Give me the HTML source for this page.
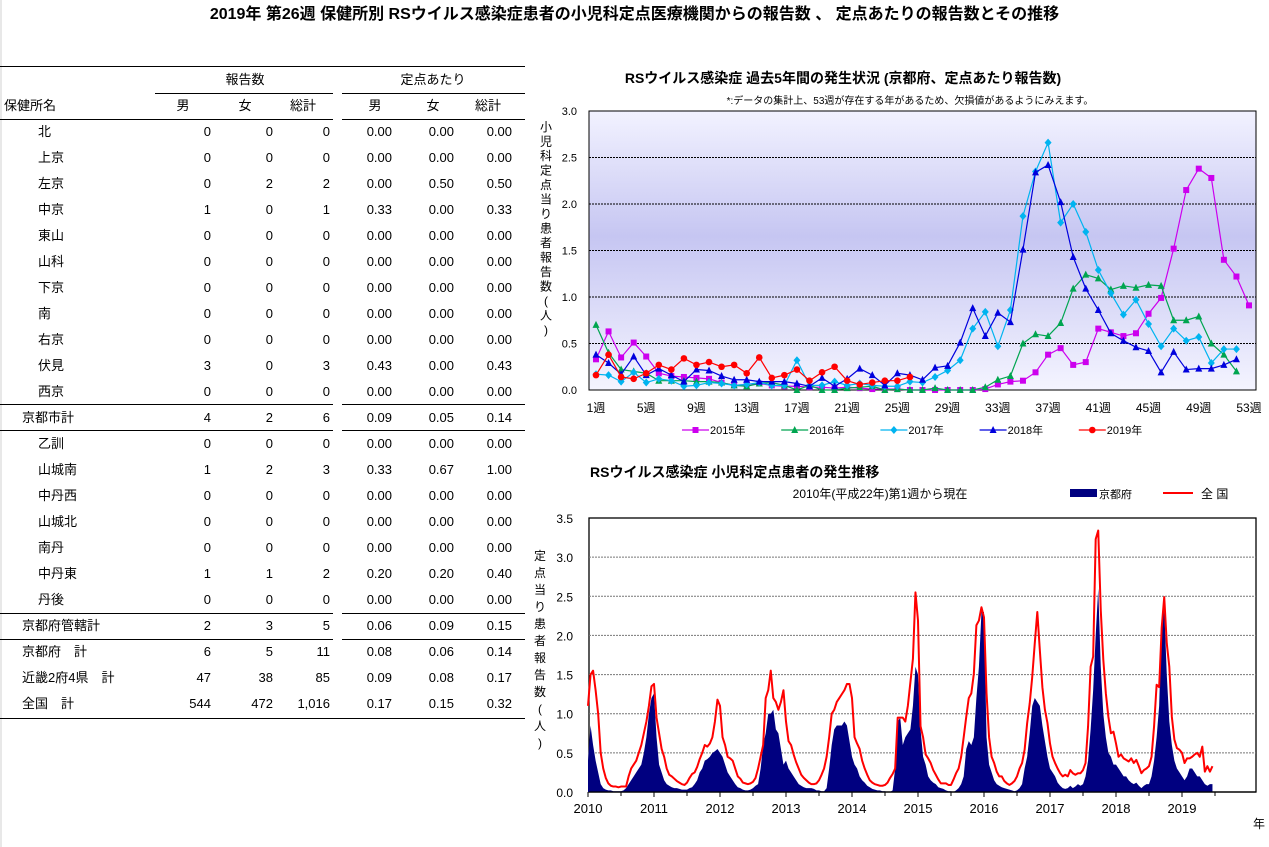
<!DOCTYPE html>
<html><head><meta charset="utf-8">
<style>
body{margin:0;width:1269px;height:847px;background:#fff;font-family:"Liberation Sans","Noto Sans CJK JP",sans-serif;color:#000;position:relative;overflow:hidden}
.a{position:absolute;white-space:nowrap;font-size:13px;line-height:14px}
.r{text-align:right}
.c{text-align:center}
.ln{position:absolute;height:1px;background:#000}
svg text{font-family:"Liberation Sans","Noto Sans CJK JP",sans-serif}
</style></head><body>
<div class="a c" style="left:0;width:1269px;top:6px;font-size:16px;line-height:18px;font-weight:bold">2019年 第26週 保健所別 RSウイルス感染症患者の小児科定点医療機関からの報告数 、 定点あたりの報告数とその推移</div>
<div style="position:absolute;left:0;top:0;width:2px;height:847px;background:#e8e8e8"></div>
<div id="tbl"></div>
<svg id="top" width="1269" height="847" style="position:absolute;left:0;top:0"></svg>
<script>
// ---- table ----
const rows=[
["北",0,0,0,"0.00","0.00","0.00",1],["上京",0,0,0,"0.00","0.00","0.00",1],["左京",0,2,2,"0.00","0.50","0.50",1],["中京",1,0,1,"0.33","0.00","0.33",1],
["東山",0,0,0,"0.00","0.00","0.00",1],["山科",0,0,0,"0.00","0.00","0.00",1],["下京",0,0,0,"0.00","0.00","0.00",1],["南",0,0,0,"0.00","0.00","0.00",1],
["右京",0,0,0,"0.00","0.00","0.00",1],["伏見",3,0,3,"0.43","0.00","0.43",1],["西京",0,0,0,"0.00","0.00","0.00",1],
["京都市計",4,2,6,"0.09","0.05","0.14",0],
["乙訓",0,0,0,"0.00","0.00","0.00",1],["山城南",1,2,3,"0.33","0.67","1.00",1],["中丹西",0,0,0,"0.00","0.00","0.00",1],["山城北",0,0,0,"0.00","0.00","0.00",1],
["南丹",0,0,0,"0.00","0.00","0.00",1],["中丹東",1,1,2,"0.20","0.20","0.40",1],["丹後",0,0,0,"0.00","0.00","0.00",1],
["京都府管轄計",2,3,5,"0.06","0.09","0.15",0],["京都府　計",6,5,11,"0.08","0.06","0.14",0],["近畿2府4県　計",47,38,85,"0.09","0.08","0.17",0],["全国　計",544,472,"1,016","0.17","0.15","0.32",0]];
const T=document.getElementById('tbl');
let h='';
function L(x,y,w,n){h+=`<div class="ln" style="left:${x}px;top:${y}px;width:${w}px"></div>`;}
L(0,66,525,'table-top-rule');L(155,93,178,'count-group-rule');L(342,93,183,'rate-group-rule');
L(0,119,333,'header-rule-left');L(342,119,183,'header-rule-right');
h+=`<div class="a c" style="left:195px;width:100px;top:73px">報告数</div>`;
h+=`<div class="a c" style="left:383px;width:100px;top:73px">定点あたり</div>`;
h+=`<div class="a" style="left:4px;top:99px">保健所名</div>`;
[[183,'男'],[245,'女'],[303,'総計'],[375,'男'],[433,'女'],[488,'総計']].forEach(p=>{h+=`<div class="a c" style="left:${p[0]-25}px;width:50px;top:99px">${p[1]}</div>`;});
const rights=[211,273,330,392,454,512];
const ys=[132,158,184,210,236,262,288,314,340,366,392,418,444,470,496,522,548,574,600,626,652,678,704];
rows.forEach((r,i)=>{const y=ys[i]-7;
h+=`<div class="a" style="left:${r[7]?38:22}px;top:${y}px">${r[0]}</div>`;
for(let j=1;j<=6;j++)h+=`<div class="a r" style="left:${rights[j-1]-60}px;width:60px;top:${y}px">${r[j]}</div>`;});
L(0,404,333,'rule');L(342,404,183,'rule');L(0,430,333,'rule');L(342,430,183,'rule');
L(0,613,333,'rule');L(342,613,183,'rule');L(0,639,333,'rule');L(342,639,183,'rule');L(0,718,525,'table-bottom-rule');
T.innerHTML=h;
</script>
<script>
// ---- top chart data ----
const weekTicks=["1週","5週","9週","13週","17週","21週","25週","29週","33週","37週","41週","45週","49週","53週"];
const yTicksTop=["0.0","0.5","1.0","1.5","2.0","2.5","3.0"];
const s2015=[0.33,0.63,0.35,0.51,0.36,0.18,0.15,0.14,0.13,0.12,0.08,0.05,0.06,0.07,0.05,0.04,0.04,0.03,0.03,0.02,0.03,0.02,0.01,0.01,0.01,0,0,0,0,0,0,0.01,0.06,0.09,0.10,0.19,0.38,0.45,0.27,0.30,0.66,0.62,0.58,0.61,0.82,0.99,1.52,2.15,2.38,2.28,1.40,1.22,0.91];
const s2016=[0.70,0.40,0.22,0.20,0.18,0.10,0.10,0.10,0.09,0.09,0.08,0.05,0.04,0.07,0.08,0.05,0,0.05,0,0,0.02,0.03,0.04,0,0.01,0,0,0.02,0,0,0,0.03,0.11,0.15,0.50,0.60,0.58,0.72,1.09,1.24,1.20,1.08,1.12,1.10,1.13,1.12,0.75,0.75,0.79,0.50,0.38,0.20];
const s2017=[0.17,0.16,0.09,0.19,0.08,0.12,0.10,0.04,0.05,0.08,0.07,0.05,0.06,0.08,0.05,0.05,0.32,0.05,0.05,0.09,0.05,0.07,0.05,0.04,0.04,0.09,0.08,0.14,0.21,0.32,0.66,0.84,0.47,0.86,1.87,2.35,2.66,1.80,2.00,1.70,1.29,1.04,0.81,0.97,0.71,0.47,0.66,0.53,0.57,0.29,0.44,0.44];
const s2018=[0.38,0.29,0.17,0.36,0.16,0.23,0.16,0.09,0.22,0.21,0.15,0.11,0.11,0.09,0.09,0.09,0.07,0.04,0.13,0.04,0.12,0.23,0.16,0.05,0.18,0.16,0.11,0.24,0.26,0.51,0.88,0.58,0.83,0.73,1.51,2.34,2.42,2.02,1.43,1.09,0.86,0.61,0.53,0.46,0.42,0.19,0.41,0.22,0.23,0.23,0.27,0.33];
const s2019=[0.16,0.38,0.14,0.12,0.18,0.27,0.22,0.34,0.27,0.30,0.25,0.27,0.18,0.35,0.13,0.16,0.22,0.10,0.19,0.25,0.10,0.06,0.08,0.10,0.10,0.14];
const seriesNames=["2015年","2016年","2017年","2018年","2019年"];

// ---- bottom chart data (biweekly, from 2010 week 1) ----
const yearLabels=["2010","2011","2012","2013","2014","2015","2016","2017","2018","2019"];
const yTicksBot=["0.0","0.5","1.0","1.5","2.0","2.5","3.0","3.5"];
const national=[
1.1,1.5,1.55,1.3,1.0,0.5,0.3,0.18,0.11,0.08,0.07,0.07,0.06,0.07,0.07,0.07,0.2,0.3,0.35,0.4,0.5,0.6,0.75,0.9,1.1,1.35,
1.38,0.95,0.75,0.55,0.45,0.3,0.22,0.2,0.17,0.14,0.12,0.1,0.09,0.12,0.18,0.23,0.25,0.32,0.42,0.5,0.6,0.58,0.62,0.7,0.9,1.18,
1.1,0.7,0.6,0.45,0.43,0.4,0.3,0.2,0.17,0.12,0.11,0.1,0.11,0.13,0.18,0.3,0.45,0.6,1.2,1.3,1.55,1.2,1.15,1.05,1.15,1.3,
0.9,0.65,0.6,0.48,0.38,0.3,0.22,0.18,0.15,0.12,0.1,0.1,0.11,0.15,0.22,0.3,0.45,0.7,1.0,1.05,1.15,1.2,1.25,1.3,1.38,1.38,
1.2,0.7,0.62,0.55,0.4,0.3,0.22,0.15,0.12,0.1,0.09,0.08,0.08,0.09,0.12,0.18,0.23,0.3,0.95,0.95,0.95,0.9,1.1,1.4,1.7,2.55,
2.19,0.84,0.7,0.48,0.43,0.37,0.28,0.22,0.16,0.11,0.11,0.11,0.09,0.09,0.16,0.24,0.3,0.45,0.7,0.96,1.2,1.26,1.51,2.13,2.19,2.36,
2.23,1.26,0.7,0.45,0.37,0.26,0.2,0.2,0.14,0.11,0.09,0.11,0.14,0.2,0.3,0.37,0.54,0.88,1.13,1.47,1.9,2.3,1.81,1.34,1.05,0.88,
0.62,0.45,0.37,0.3,0.24,0.2,0.22,0.2,0.28,0.24,0.22,0.24,0.24,0.28,0.37,0.84,1.6,1.73,3.23,3.34,2.32,1.69,1.26,0.96,0.75,0.77,
0.62,0.45,0.48,0.43,0.41,0.39,0.43,0.37,0.41,0.33,0.24,0.28,0.3,0.33,0.45,0.84,1.37,1.34,2.1,2.49,1.9,1.6,0.96,0.67,0.56,0.54,
0.5,0.37,0.43,0.43,0.45,0.48,0.5,0.45,0.58,0.26,0.33,0.26,0.33];
const kyoto=[
0.4,0.85,0.6,0.4,0.25,0.1,0.05,0.03,0.02,0.02,0.01,0.01,0.01,0.01,0.02,0.05,0.1,0.15,0.2,0.25,0.3,0.35,0.5,0.7,1.0,1.2,
1.26,0.7,0.35,0.25,0.15,0.1,0.08,0.06,0.05,0.05,0.04,0.03,0.03,0.03,0.05,0.06,0.1,0.15,0.25,0.3,0.4,0.42,0.45,0.5,0.52,0.55,
0.5,0.45,0.35,0.25,0.2,0.15,0.1,0.06,0.05,0.03,0.02,0.02,0.03,0.05,0.08,0.1,0.3,0.6,0.75,1.0,1.0,1.05,0.8,0.75,0.55,0.35,
0.4,0.3,0.25,0.2,0.15,0.1,0.08,0.06,0.05,0.05,0.05,0.04,0.02,0.02,0.01,0.01,0.05,0.3,0.6,0.8,0.85,0.85,0.85,0.9,0.85,0.65,
0.45,0.35,0.3,0.2,0.15,0.12,0.08,0.06,0.04,0.03,0.02,0.02,0.01,0.01,0,0,0.02,0.3,0.9,0.95,0.6,0.7,0.75,0.8,1.1,1.6,
1.5,0.8,0.45,0.35,0.2,0.15,0.12,0.1,0.06,0.05,0.04,0.02,0.01,0.01,0,0.02,0.05,0.1,0.2,0.55,0.65,0.6,0.7,1.2,1.6,2.3,
2.3,0.7,0.35,0.25,0.15,0.1,0.08,0.06,0.05,0.04,0.03,0.02,0.01,0.02,0.05,0.1,0.3,0.45,0.75,1.1,1.2,1.15,1.1,0.85,0.65,0.45,
0.3,0.25,0.2,0.12,0.08,0.05,0.04,0.05,0.08,0.05,0.07,0.1,0.08,0.1,0.2,0.4,0.8,1.3,2.0,2.6,1.6,1.0,0.7,0.5,0.45,0.35,
0.35,0.3,0.25,0.2,0.2,0.15,0.12,0.1,0.12,0.08,0.05,0.08,0.1,0.1,0.2,0.4,0.7,1.1,2.2,2.35,1.5,0.9,0.6,0.4,0.3,0.25,
0.2,0.15,0.2,0.3,0.3,0.25,0.2,0.2,0.15,0.1,0.08,0.1,0.1];

const NS='http://www.w3.org/2000/svg';
const svg=document.getElementById('top');
function E(tag,attrs,parent){const e=document.createElementNS(NS,tag);for(const k in attrs)e.setAttribute(k,attrs[k]);(parent||svg).appendChild(e);return e;}
function TX(x,y,s,attrs){const e=E('text',Object.assign({x:x,y:y,'font-size':12},attrs||{}));e.textContent=s;return e;}

// ===== top chart =====
const tL=589,tR=1256,tT=111,tB=390;
const wx=w=>596+(w-1)*(1249-596)/52;
const ty=v=>tB-v*(tB-tT)/3;
const defs=E('defs',{});
const g=E('linearGradient',{id:'bg',x1:0,y1:0,x2:0,y2:1},defs);
E('stop',{offset:'0','stop-color':'#f2f2ff'},g);E('stop',{offset:'0.45','stop-color':'#c6c6f2'},g);E('stop',{offset:'1','stop-color':'#f4f4ff'},g);
let el=E('rect',{x:tL,y:tT,width:tR-tL,height:tB-tT,fill:'url(#bg)',stroke:'#000','stroke-width':1});


yTicksTop.forEach((t,i)=>{const v=parseFloat(t);const y=ty(v);
 if(v>0&&v<3){el=E('line',{x1:tL,x2:tR,y1:y,y2:y,stroke:'#000','stroke-dasharray':'2,1','stroke-width':1});
 
 }
 el=TX(577,y+4,t,{'text-anchor':'end','font-size':11});
 
 });
weekTicks.forEach((t,i)=>{el=TX(wx(1+4*i),412,t,{'text-anchor':'middle','font-size':12});
 
 });
el=TX(843,83,'RSウイルス感染症 過去5年間の発生状況 (京都府、定点あたり報告数)',{'text-anchor':'middle','font-size':14,'font-weight':'bold'});


el=TX(910,104,'*:データの集計上、53週が存在する年があるため、欠損値があるようにみえます。',{'text-anchor':'middle','font-size':10});


"小児科定点当り患者報告数(人)".split('').forEach((c,i)=>{el=TX(546,131+i*14.5,c,{'text-anchor':'middle','font-size':12});
 
 });
const tops=[[s2015,'#cc00ee','sq'],[s2016,'#00a550','tri'],[s2017,'#00b4f0','dia'],[s2018,'#0000dd','tri'],[s2019,'#ff0000','dot']];
function marker(x,y,shape,col,name){let m;
 if(shape==='sq')m=E('rect',{x:x-3,y:y-3,width:6,height:6,fill:col});
 else if(shape==='tri')m=E('polygon',{points:`${x},${y-4} ${x-3.5},${y+3} ${x+3.5},${y+3}`,fill:col});
 else if(shape==='dia')m=E('polygon',{points:`${x},${y-4} ${x+3.5},${y} ${x},${y+4} ${x-3.5},${y}`,fill:col});
 else m=E('circle',{cx:x,cy:y,r:3.3,fill:col});
 
 }
tops.forEach((s,si)=>{const pts=s[0].map((v,i)=>wx(i+1)+','+ty(v)).join(' ');
 el=E('polyline',{points:pts,fill:'none',stroke:s[1],'stroke-width':1.2});
 
 
 s[0].forEach((v,i)=>marker(wx(i+1),ty(v),s[2],s[1],'point-'+seriesNames[si]));
 const lx=682+si*99.2;
 el=E('line',{x1:lx,x2:lx+27,y1:430,y2:430,stroke:s[1],'stroke-width':1.2});
 
 
 marker(lx+13.5,430,s[2],s[1],'legend-marker');
 el=TX(lx+28,434,seriesNames[si],{'font-size':11});
 
 });

// ===== bottom chart =====
const bL=589,bR=1256,bT=518,bB=792;
const yrW=66;
const bx=k=>588+yrW*(k/26);
const by=v=>bB-v*(bB-bT)/3.5;
el=E('rect',{x:bL,y:bT,width:bR-bL,height:bB-bT,fill:'#fff',stroke:'#000','stroke-width':1.3});


yTicksBot.forEach(t=>{const v=parseFloat(t);const y=by(v);
 if(v>0&&v<3.5){el=E('line',{x1:bL,x2:bR,y1:y,y2:y,stroke:'#777','stroke-dasharray':'2,1','stroke-width':1});
 
 }
 el=TX(573,y+5,t,{'text-anchor':'end','font-size':12});
 
 });
let ap='M'+bx(0)+','+bB+' '+kyoto.map((v,i)=>'L'+bx(i)+','+by(v)).join(' ')+' L'+bx(kyoto.length-1)+','+bB+' Z';
el=E('path',{d:ap,fill:'#000080'});


el=E('polyline',{points:national.map((v,i)=>bx(i)+','+by(v)).join(' '),fill:'none',stroke:'#ff0000','stroke-width':2,'stroke-linejoin':'round'});


el=E('line',{x1:bL,x2:bR,y1:bB,y2:bB,stroke:'#000','stroke-width':1.3});


yearLabels.forEach((t,i)=>{const x=588+yrW*i;
 el=E('line',{x1:x,x2:x,y1:bB,y2:bB+5,stroke:'#000'});
 
 
 el=E('line',{x1:x+yrW/2,x2:x+yrW/2,y1:bB,y2:bB+4,stroke:'#000'});
 
 
 el=TX(x,813,t,{'text-anchor':'middle','font-size':13});
 
 });
el=TX(1259,828,'年',{'text-anchor':'middle','font-size':12});


el=TX(590,477,'RSウイルス感染症  小児科定点患者の発生推移',{'font-size':14,'font-weight':'bold'});


el=TX(880,498,'2010年(平成22年)第1週から現在',{'text-anchor':'middle','font-size':12});


el=E('rect',{x:1070,y:489,width:27,height:8,fill:'#000080'});


el=TX(1099,498,'京都府',{'font-size':11});


el=E('line',{x1:1163,x2:1193,y1:493,y2:493,stroke:'#ff0000','stroke-width':2});


el=TX(1201,498,'全  国',{'font-size':12});


"定点当り患者報告数(人)".split('').forEach((c,i)=>{el=TX(540,560+i*17,c,{'text-anchor':'middle','font-size':12});
 
 });
</script>
</body></html>
